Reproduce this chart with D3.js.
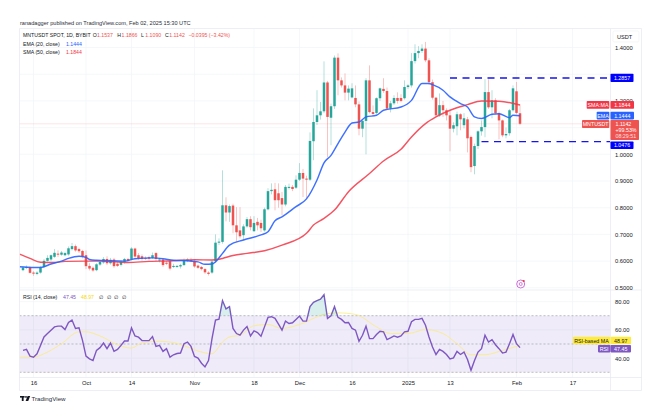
<!DOCTYPE html>
<html lang="en">
<head>
<meta charset="UTF-8">
<title>MNTUSDT</title>
<script src="https://d3js.org/d3.v7.min.js"></script>
<style>
    body { margin: 0; background: #fff; }
    svg { display: block; font-family: "Liberation Sans", Arial, sans-serif; }
    text { font-size: 5.6px; fill: #131722; }
    .axis path, .axis line { display: none; }
    .axis text { font-family: "Liberation Sans", Arial, sans-serif; font-size: 5.8px; fill: #131722; }
</style>
</head>
<body>
<svg id="chart" width="650" height="406"></svg>
<script>
// daily candles, 13 Sep 2024 .. 2 Feb 2025
const opens = [
    .566,.574,.578,.557,.552,.557,.578,.601,.606,.616,
    .628,.624,.622,.625,.645,.656,.645,.638,.622,.582,
    .575,.566,.587,.595,.608,.592,.606,.590,.586,.597,
    .608,.607,.647,.622,.618,.612,.615,.612,.630,.602,
    .606,.594,.600,.578,.578,.580,.585,.600,.604,.600,
    .583,.578,.570,.557,.557,.600,.669,.672,.809,.782,
    .808,.734,.715,.697,.730,.757,.712,.747,.743,.715,
    .794,.862,.869,.854,.836,.812,.874,.878,.875,.905,
    .930,.909,.905,1.049,1.121,1.146,1.161,1.269,1.137,1.180,
    1.362,1.277,1.258,1.231,1.213,1.211,1.187,1.096,1.125,1.277,
    1.158,1.155,1.21,1.245,1.237,1.171,1.191,1.211,1.211,1.21,
    1.252,1.258,1.349,1.379,1.387,1.396,1.352,1.27,1.212,1.146,
    1.184,1.165,1.146,1.096,1.105,1.15,1.109,1.131,1.065,.956,
    1.031,1.086,1.102,1.233,1.176,1.202,1.154,1.127,1.071,1.079,
    1.165,1.236,1.1537];
const highs = [
    .580,.584,.580,.562,.562,.582,.608,.622,.625,.645,
    .640,.638,.635,.655,.668,.662,.650,.642,.640,.592,
    .580,.592,.602,.615,.618,.612,.612,.596,.602,.612,
    .612,.652,.650,.630,.625,.618,.620,.632,.634,.612,
    .610,.600,.604,.590,.586,.590,.610,.612,.612,.606,
    .588,.582,.574,.562,.602,.700,.685,.940,.839,.812,
    .815,.802,.802,.738,.765,.768,.768,.762,.755,.80,
    .873,.891,.893,.891,.859,.885,.89,.885,.921,.967,
    .945,.92,1.082,1.172,1.24,1.196,1.348,1.275,1.19,1.37,
    1.378,1.288,1.303,1.258,1.266,1.258,1.198,1.13,1.285,1.333,
    1.183,1.213,1.25,1.285,1.25,1.2,1.221,1.232,1.225,1.277,
    1.262,1.379,1.412,1.405,1.412,1.421,1.36,1.28,1.215,1.228,
    1.2,1.172,1.165,1.12,1.16,1.154,1.154,1.14,1.07,1.04,
    1.09,1.127,1.281,1.281,1.24,1.21,1.16,1.13,1.1,1.17,
    1.258,1.271,1.1866];
const lows = [
    .562,.570,.553,.545,.547,.553,.575,.598,.600,.612,
    .615,.620,.618,.620,.640,.635,.630,.610,.570,.565,
    .560,.562,.582,.590,.585,.587,.575,.578,.580,.590,
    .598,.603,.610,.605,.602,.604,.603,.608,.600,.595,
    .578,.585,.565,.574,.574,.572,.582,.596,.596,.575,
    .570,.565,.552,.546,.552,.595,.660,.665,.749,.747,
    .704,.672,.685,.678,.725,.715,.709,.715,.709,.71,
    .79,.85,.79,.80,.772,.805,.868,.862,.87,.90,
    .84,.835,.90,.978,1.11,1.13,1.154,.99,1.034,1.17,
    1.221,1.25,1.202,1.202,1.21,1.176,1.071,1.064,1.0,1.153,
    1.145,1.15,1.20,1.23,1.165,1.157,1.185,1.19,1.195,1.205,
    1.245,1.25,1.34,1.36,1.38,1.345,1.26,1.205,1.14,1.14,
    1.14,1.127,1.011,1.082,1.071,1.09,1.097,1.007,.933,.925,
    1.02,1.07,1.064,1.17,1.135,1.15,1.056,1.064,1.06,1.07,
    1.16,1.15,1.109];
const closes = [
    .576,.578,.556,.553,.557,.577,.601,.612,.622,.631,
    .624,.632,.630,.648,.656,.640,.637,.617,.581,.572,
    .565,.588,.597,.608,.592,.605,.581,.582,.598,.608,
    .602,.647,.617,.611,.608,.610,.609,.622,.608,.606,
    .585,.590,.572,.582,.582,.585,.602,.606,.600,.580,
    .575,.570,.558,.552,.598,.669,.673,.809,.782,.806,
    .734,.708,.693,.730,.757,.727,.743,.734,.723,.794,
    .862,.867,.828,.828,.812,.878,.878,.870,.905,.930,
    .909,.905,1.050,1.121,1.146,1.161,1.269,1.140,1.180,1.362,
    1.277,1.258,1.231,1.246,1.247,1.187,1.096,1.125,1.277,1.158,
    1.151,1.21,1.247,1.237,1.171,1.191,1.211,1.2,1.2,1.252,
    1.258,1.349,1.379,1.387,1.396,1.352,1.27,1.212,1.146,1.184,
    1.165,1.146,1.096,1.109,1.15,1.131,1.135,1.06,.952,1.031,
    1.086,1.102,1.233,1.176,1.202,1.154,1.127,1.071,1.076,1.165,
    1.247,1.155,1.1142];

// moving averages, read at these day numbers (day 0 = first candle)
const emaDays = [-1,3,5,8,11,13,16,18,19,21,25,29,32,37,40,43,47,50,52,54,55,57,59,63,68,70,72,74,78,81,84,86,88,90,92,94,96,98,101,103,108,111,114,116,117,120,122,125,127,129,131,134,136,139,140,142];
const emaValues = [.579,.576,.576,.589,.600,.610,.618,.614,.606,.603,.601,.600,.609,.612,.609,.603,.601,.597,.588,.589,.597,.629,.660,.679,.698,.710,.751,.766,.804,.833,.904,.968,.996,1.04,1.083,1.117,1.121,1.14,1.146,1.165,1.177,1.202,1.265,1.265,1.261,1.24,1.215,1.19,1.177,1.14,1.134,1.15,1.152,1.137,1.146,1.1444];
const smaDays = [-1,2,5,9,12,18,22,30,36,43,49,54,56,57,60,64,69,74,81,83,86,89,93,99,103,108,111,115,118,122,127,131,136,142];
const smaValues = [.626,.610,.596,.595,.599,.600,.600,.595,.599,.601,.605,.604,.607,.610,.621,.629,.639,.660,.704,.735,.760,.791,.860,.928,.975,1.019,1.065,1.115,1.14,1.165,1.186,1.2,1.199,1.1844];

const rsiValues = [
    45.5,46.2,41.4,40.7,43.1,49,55,57.4,59.8,62.1,
    62.6,62.6,60.2,65.2,66.9,61,61.4,52.6,41.4,39.5,
    38.3,45.5,47.4,50.7,46.7,50.7,44.8,46.2,49,52.1,
    52.1,61.4,55.7,54.8,52.4,52.4,52.4,55.2,48.3,49,
    44.8,46.7,40.7,42.4,43.3,43.6,50.2,51.4,48.3,41.2,
    40,36.4,33.8,38.3,53.8,66.9,67.6,80.7,74.8,76.4,
    61,57.4,56.2,59.8,62.4,55.7,59.3,58.1,55.5,62.1,
    68.8,69.3,68.1,64,59.8,66.2,64.5,65,67.4,69.8,
    66.2,66.2,76.4,79.5,80.7,81.7,84.8,68.1,70,76.4,
    68.8,67.4,65,65.2,61,59.8,51.9,56.2,62.6,53.8,
    53.8,56.7,59,58.6,53.1,54.3,55.7,54.8,55.7,58.6,
    59,65.7,67.4,67.4,68.1,63.3,55,47.9,42.6,46.2,
    44.8,42.6,39.5,40.2,44.8,42.6,44.3,39,31.4,38.3,
    44.3,46.7,56.2,51.4,53.1,49.5,46.7,43.6,44.3,50.2,
    56.7,50.2,47.45];
const rsiMaDays = [-1,3,6,11,16,18,22,27,31,34,39,43,47,51,54,57,59,62,66,70,74,79,86,90,95,101,105,110,115,120,124,128,132,137,142];
const rsiMaValues = [40.7,40.7,43.1,50.2,58.6,58.6,55.7,49.5,47.1,50.9,51.9,51,47.9,44.3,43.1,51.4,55,56.2,62.9,63.8,61,63.8,70.9,72,70.9,62.1,57.4,57.4,60.2,57.4,50.2,42.4,42.4,45.5,48.97];

const dayTicks = [3,18,31,49,66,79,94,110,122,141,157];
const dayLabels = ["16","Oct","14","Nov","18","Dec","16","2025","13","Feb","17"];
const priceGrid = [1.4,1.3,1.2,1.1,1.0,0.9,0.8,0.7,0.6,0.5];
const priceTicks = [1.4,1.2,1.0,0.9,0.8,0.7,0.6,0.5];
const rsiTicks = [80,60,40];
const levels = [1.2857,1.0476];
const levelStart = [122,131];

const svg = d3.select("#chart");
const left = 19.5, right = 610.5, top_ = 28.5, paneBottom = 290, rsiBottom = 377.5, bottom = 390.5, outer = 641.5;

const x = d3.scaleLinear().domain([0,142]).range([23,520]);
const y = d3.scaleLinear().domain([0.5,1.4]).range([287.8,47.5]);
const yRsi = d3.scaleLinear().domain([30,70]).range([372.3,315.7]);

const green = "#26a69a", red = "#ef5350", blue = "#2962ff", smaRed = "#f23645", purple = "#7e57c2", level = "#1414f0";

const defs = svg.append("defs");
defs.append("clipPath").attr("id","priceClip").append("rect")
    .attr("x",left).attr("y",top_).attr("width",right-left).attr("height",paneBottom-top_);
defs.append("clipPath").attr("id","rsiClip").append("rect")
    .attr("x",left).attr("y",paneBottom).attr("width",right-left).attr("height",rsiBottom-paneBottom);
defs.append("clipPath").attr("id","overClip").append("rect")
    .attr("x",left).attr("y",paneBottom).attr("width",right-left).attr("height",yRsi(70)-paneBottom);
defs.append("clipPath").attr("id","underClip").append("rect")
    .attr("x",left).attr("y",yRsi(30)).attr("width",right-left).attr("height",rsiBottom-yRsi(30));

// grid
const grid = svg.append("g").attr("stroke","#f1f3f8").attr("stroke-width",0.7);
grid.selectAll(".v").data(dayTicks).enter().append("line")
    .attr("x1",d=>x(d)).attr("x2",d=>x(d)).attr("y1",top_).attr("y2",rsiBottom);
grid.selectAll(".h").data(priceGrid).enter().append("line")
    .attr("x1",left).attr("x2",right).attr("y1",d=>y(d)).attr("y2",d=>y(d));
grid.selectAll(".r").data(rsiTicks).enter().append("line")
    .attr("x1",left).attr("x2",right).attr("y1",d=>yRsi(d)).attr("y2",d=>yRsi(d));

// last price line
svg.append("line").attr("x1",left).attr("x2",right)
    .attr("y1",y(closes[142])).attr("y2",y(closes[142]))
    .attr("stroke","#f7a9ad").attr("stroke-width",0.6).attr("stroke-dasharray","1 1");

// candles
const price = svg.append("g").attr("clip-path","url(#priceClip)");
const days = d3.range(opens.length);
const col = i => closes[i] >= opens[i] ? green : red;
price.selectAll(".wick").data(days).enter().append("line")
    .attr("x1",i=>x(i)).attr("x2",i=>x(i))
    .attr("y1",i=>y(highs[i])).attr("y2",i=>y(lows[i]))
    .attr("stroke",col).attr("stroke-width",1).attr("stroke-opacity",0.35);
price.selectAll(".body").data(days).enter().append("rect")
    .attr("x",i=>x(i)-1.25).attr("width",2.5)
    .attr("y",i=>y(Math.max(opens[i],closes[i])))
    .attr("height",i=>Math.max(1,Math.abs(y(opens[i])-y(closes[i]))))
    .attr("fill",col);

// moving averages
const priceLine = d3.line().x(d=>x(d[0])).y(d=>y(d[1])).curve(d3.curveMonotoneX);
price.append("path").attr("d",priceLine(d3.zip(smaDays,smaValues)))
    .attr("fill","none").attr("stroke",smaRed).attr("stroke-width",1.45).attr("stroke-opacity",0.85);
price.append("path").attr("d",priceLine(d3.zip(emaDays,emaValues)))
    .attr("fill","none").attr("stroke",blue).attr("stroke-width",1.45).attr("stroke-opacity",0.9);

// horizontal levels
price.selectAll(".level").data(levels).enter().append("line")
    .attr("x1",(d,i)=>x(levelStart[i])).attr("x2",right)
    .attr("y1",d=>y(d)).attr("y2",d=>y(d))
    .attr("stroke",level).attr("stroke-width",1.3).attr("stroke-dasharray","7 5.5");

// ideas marker
const mark = svg.append("g").attr("transform","translate(520.7,284)");
mark.append("circle").attr("r",4).attr("fill","#fff").attr("stroke","#c95fd6").attr("stroke-width",0.9);
mark.append("circle").attr("r",1.5).attr("fill","none").attr("stroke","#c95fd6").attr("stroke-width",0.8);
mark.append("circle").attr("cx",3).attr("cy",-3).attr("r",1.1).attr("fill","#f23645");

// rsi pane
const rsiPane = svg.append("g").attr("clip-path","url(#rsiClip)");
rsiPane.append("rect").attr("x",left).attr("width",right-left)
    .attr("y",yRsi(70)).attr("height",yRsi(30)-yRsi(70)).attr("fill",purple).attr("fill-opacity",0.12);
const rsiArea = d3.area().x((d,i)=>x(i)).y1(d=>yRsi(d));
svg.append("path").attr("clip-path","url(#overClip)")
    .attr("d",rsiArea.y0(yRsi(70))(rsiValues)).attr("fill",green).attr("fill-opacity",0.18);
svg.append("path").attr("clip-path","url(#underClip)")
    .attr("d",rsiArea.y0(yRsi(30))(rsiValues)).attr("fill",red).attr("fill-opacity",0.18);
rsiPane.selectAll(".band").data([70,50,30]).enter().append("line")
    .attr("x1",left).attr("x2",right).attr("y1",d=>yRsi(d)).attr("y2",d=>yRsi(d))
    .attr("stroke","#9598a1").attr("stroke-width",0.6).attr("stroke-dasharray","2 2");
rsiPane.append("path")
    .attr("d",d3.line().x(d=>x(d[0])).y(d=>yRsi(d[1])).curve(d3.curveMonotoneX)(d3.zip(rsiMaDays,rsiMaValues)))
    .attr("fill","none").attr("stroke","#fdeb7a").attr("stroke-width",0.8);
rsiPane.append("path")
    .attr("d",d3.line().x((d,i)=>x(i)).y(d=>yRsi(d))(rsiValues))
    .attr("fill","none").attr("stroke",purple).attr("stroke-width",1.4);

// frame
const frame = svg.append("g").attr("stroke","#e6e8ef").attr("stroke-width",0.7);
[[left,top_,outer,top_],[left,top_,left,bottom],[left,bottom,outer,bottom],[outer,top_,outer,bottom],
 [right,top_,right,bottom],[left,paneBottom,outer,paneBottom],[left,rsiBottom,outer,rsiBottom]].forEach(s => {
    frame.append("line").attr("x1",s[0]).attr("y1",s[1]).attr("x2",s[2]).attr("y2",s[3]);
});

// axes
svg.append("g").attr("class","axis").attr("transform",`translate(${right},0)`)
    .call(d3.axisRight(y).tickValues(priceTicks).tickFormat(d3.format(".4f")).tickSize(0).tickPadding(4.5));
svg.append("g").attr("class","axis").attr("transform",`translate(${right},0)`)
    .call(d3.axisRight(yRsi).tickValues(rsiTicks).tickFormat(d3.format(".2f")).tickSize(0).tickPadding(4.5));
svg.append("g").attr("class","axis").attr("transform",`translate(0,${rsiBottom})`)
    .call(d3.axisBottom(x).tickValues(dayTicks).tickFormat((d,i)=>dayLabels[i]).tickSize(0).tickPadding(3.5));

// axis tags
function tag(x0, y0, w, h, fill, txt, color) {
    svg.append("rect").attr("x",x0).attr("y",y0).attr("width",w).attr("height",h).attr("fill",fill).attr("rx",0.8);
    if (txt) svg.append("text").attr("x",x0+w/2).attr("y",y0+h/2+2).attr("text-anchor","middle")
        .style("fill",color||"#fff").style("font-size","5.3px").text(txt);
}
svg.append("rect").attr("x",613).attr("y",31).attr("width",26).attr("height",11).attr("rx",1.5)
    .attr("fill","#fff").attr("stroke","#eef0f4").attr("stroke-width",0.6);
svg.append("text").attr("x",617).attr("y",39).text("USDT");

tag(610.5,73.7,23,8.3,"#0000ff","1.2857");
tag(610.5,141.5,23,7.5,"#0000ff","1.0476");
tag(586.7,101,22.6,7.8,smaRed,"SMA:MA");
tag(610.5,101,23.5,7.8,smaRed,"1.1844");
tag(596.7,111.7,12.6,7.7,blue,"EMA");
tag(610.5,111.7,23.5,7.7,blue,"1.1444");
tag(582,120,27.3,8,red,"MNTUSDT");
tag(610.5,120,28.5,20,red);
svg.append("text").attr("x",615.5).attr("y",126).style("fill","#fff").style("font-size","5.3px").text("1.1142");
svg.append("text").attr("x",615.5).attr("y",132.3).style("fill","#fff").style("font-size","5.3px").text("+99.53%");
svg.append("text").attr("x",615.5).attr("y",138.3).style("fill","#fde0e0").style("font-size","5.3px").text("08:29:51");
tag(573,336.7,37,7.6,"#ffeb3b","RSI-based MA","#131722");
tag(610.5,336.7,20.5,7.6,"#ffeb3b","48.97","#131722");
tag(598,345,12.4,7.4,purple,"RSI");
tag(610.5,345,20.5,7.4,purple,"47.45");

// legends
function label(x0, y0, txt, color) {
    svg.append("text").attr("x",x0).attr("y",y0).style("fill",color||"#131722").style("font-size","5.2px").text(txt);
}
svg.append("text").attr("x",20).attr("y",25).style("fill","#2a2e39").text("ranadagger published on TradingView.com, Feb 02, 2025 15:30 UTC");
label(23,37,"MNTUSDT SPOT, 1D, BYBIT");
const ohlcNames = ["O","H","L","C"];
const ohlcText = ["1.1537","1.1866","1.1090","1.1142"];
const ohlcPos = [92.7,117.3,141,165];
ohlcNames.forEach((n,i) => {
    label(ohlcPos[i],37,n);
    label(ohlcPos[i]+4.3,37,ohlcText[i],red);
});
label(188.5,37,"\u22120.0395 (\u22123.42%)",red);
label(23,45.5,"EMA (20, close)");
label(66,45.5,"1.1444",blue);
label(23,53.5,"SMA (50, close)");
label(66,53.5,"1.1844",smaRed);
label(23,299,"RSI (14, close)");
label(63,299,"47.45",purple);
label(81,299,"48.97","#f5d90a");
[99.3,107,114.3,121.7].forEach(p => label(p,299,"\u2205"));

// footer logo
const logo = svg.append("g").attr("fill","#131722");
logo.append("rect").attr("x",20).attr("y",396).attr("width",4.6).attr("height",1.6);
logo.append("rect").attr("x",21.8).attr("y",396).attr("width",1.8).attr("height",5);
logo.append("circle").attr("cx",26).attr("cy",396.9).attr("r",0.9);
logo.append("path").attr("d","M27.6 396h2.6l-2 5h-2.6z");
svg.append("text").attr("x",31.5).attr("y",401).style("font-size","6.2px").style("fill","#2a2e39").text("TradingView");
</script>
</body>
</html>
